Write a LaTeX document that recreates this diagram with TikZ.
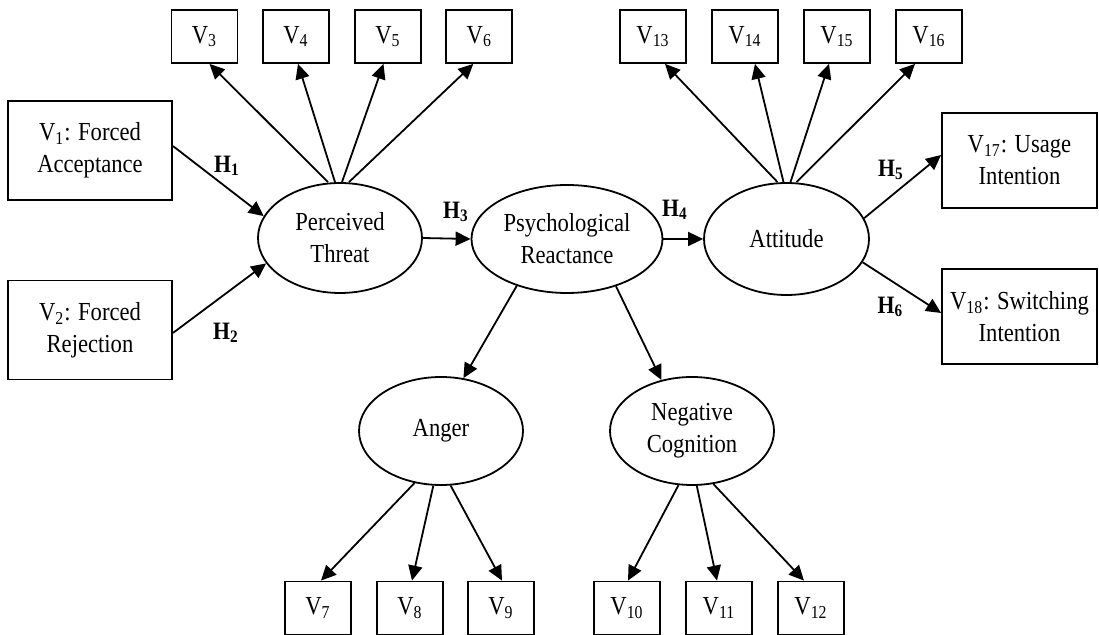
\documentclass[tikz,border=0pt]{standalone}
\usepackage{fontspec}
\setmainfont{Liberation Serif}[FakeStretch=0.87]
\usetikzlibrary{arrows.meta,shapes.geometric,calc}

\begin{document}
\begin{tikzpicture}[x=0.5pt,y=-0.5pt,
	font=\fontsize{13}{16}\selectfont,
	box/.style={draw,line width=0.9pt,inner sep=0pt,minimum width=33pt,minimum height=26.5pt},
	wide/.style={box,align=center,minimum width=82pt,minimum height=49.5pt},
	latent/.style={draw,ellipse,line width=0.9pt,inner sep=0pt,align=center,minimum width=82pt,minimum height=55pt},
	path/.style={-{Triangle[length=7.5pt,width=7pt]},line width=0.9pt},
	hyp/.style={font=\fontsize{12.5}{16}\selectfont\bfseries}]
				\useasboundingbox (0,0) rectangle (1099,635);
				\node[wide] (v1) at (90,150.5) {V\textsubscript{1}: Forced\\Acceptance};
				\node[wide] (v2) at (90,330) {V\textsubscript{2}: Forced\\Rejection};
				\node[latent] (threat) at (340,238) {Perceived\\Threat};
				\node[latent,minimum width=95.5pt,minimum height=54pt] (react) at (567,239) {Psychological\\Reactance};
				\node[latent,minimum width=82.5pt,minimum height=56pt] (att) at (786.5,239) {Attitude};
				\node[latent,minimum height=54pt] (anger) at (441,431) {Anger};
				\node[latent,minimum height=54pt] (cogn) at (692,431) {Negative\\Cognition};
				\node[wide,minimum width=77.5pt,minimum height=47.5pt] (v17) at (1019.5,160.5) {V\textsubscript{17}: Usage\\Intention};
				\node[wide,minimum width=77.5pt,minimum height=47.5pt] (v18) at (1019.5,316.5) {V\textsubscript{18}: Switching\\Intention};
				\foreach \i/\x in {3/204.5,4/296,5/388,6/479.3,13/653,14/745,15/837,16/929}
					\node[box] (v\i) at (\x,36.5) {V\textsubscript{\i}};
				\foreach \i/\x in {7/318,8/410,9/501,10/627,11/719,12/811}
					\node[box] (v\i) at (\x,608) {V\textsubscript{\i}};
				\draw[path] ($(v1.east)+(0,-4.5)$) -- (threat.164);
				\draw[path] ($(v2.east)+(0,3)$) -- (threat.199);
				\foreach \i/\dx/\ex in {3/-12/5,4/-5/2,5/2/-4.5,6/9/-6}
					\draw[path] ($(threat.north)+(\dx,0)$) -- ($(v\i.south)+(\ex,0)$);
				\foreach \i/\dx/\ex in {13/-9/12,14/-3/10,15/4/-8,16/10/-14}
					\draw[path] ($(att.north)+(\dx,0)$) -- ($(v\i.south)+(\ex,0)$);
				\draw[path] (threat.east) -- (react.west);
				\draw[path] (react.east) -- (att.west);
				\draw[path] (att.15) -- ($(v17.west)+(0,-5.5)$);
				\draw[path] (att.343) -- ($(v18.west)+(0,-3.5)$);
				\draw[path] (react.223) -- (anger.67);
				\draw[path] (react.316) -- (cogn.121);
				\foreach \i/\a/\ex in {7/243/3,8/262/2,9/280/1}
					\draw[path] (anger.\a) -- ($(v\i.north)+(\ex,0)$);
				\foreach \i/\a/\ex in {10/256/1,11/275/-2,12/292/-7}
					\draw[path] (cogn.\a) -- ($(v\i.north)+(\ex,0)$);
				\node[hyp] (h1) at (227,166) {H\textsubscript{1}};
				\node[hyp] (h2) at (226,333) {H\textsubscript{2}};
				\node[hyp] (h3) at (456,212) {H\textsubscript{3}};
				\node[hyp] (h4) at (675,210) {H\textsubscript{4}};
				\node[hyp] (h5) at (891,170) {H\textsubscript{5}};
				\node[hyp] (h6) at (890.5,307) {H\textsubscript{6}};
\end{tikzpicture}
\end{document}
